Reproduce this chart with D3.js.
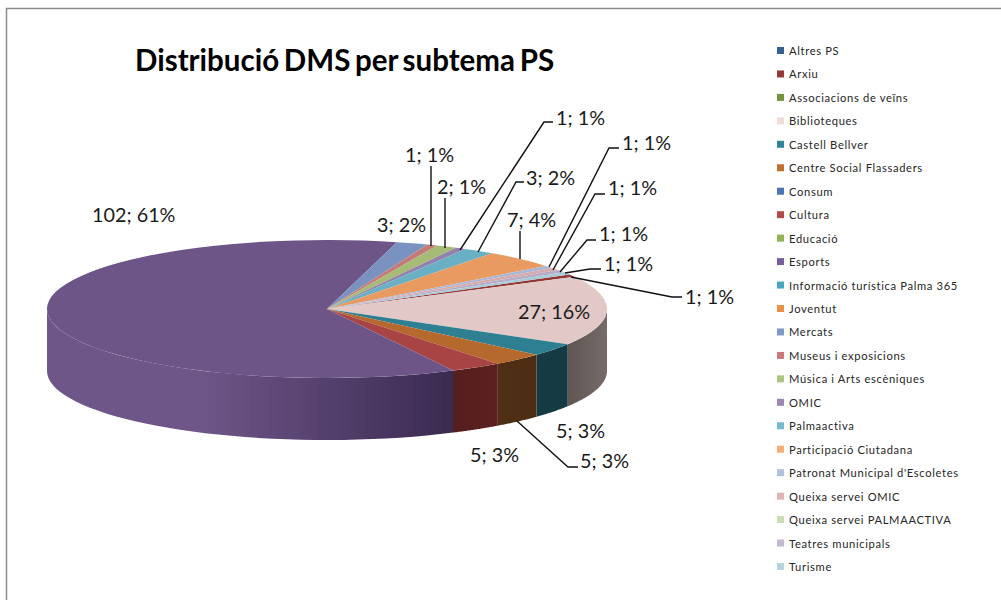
<!DOCTYPE html>
<html><head><meta charset="utf-8">
<script src="https://cdnjs.cloudflare.com/ajax/libs/d3/7.8.5/d3.min.js"></script>
<style>html,body{margin:0;padding:0;background:#fff}svg{display:block}text{font-family:Lato,"Open Sans",sans-serif}</style>
</head><body><svg id="c" width="1001" height="600"></svg>
<script>
const titleText = "Distribució DMS per subtema PS";
const categories = ["Altres PS","Arxiu","Associacions de veïns","Biblioteques","Castell Bellver","Centre Social Flassaders","Consum","Cultura","Educació","Esports","Informació turística Palma 365","Joventut","Mercats","Museus i exposicions","Música i Arts escèniques","OMIC","Palmaactiva","Participació Ciutadana","Patronat Municipal d'Escoletes","Queixa servei OMIC","Queixa servei PALMAACTIVA","Teatres municipals","Turisme"];
const values = [0,1,0,27,5,5,0,5,0,102,0,0,3,1,2,1,3,7,1,1,0,1,1];
const labels = ["","1; 1%","","27; 16%","5; 3%","5; 3%","","5; 3%","","102; 61%","","","3; 2%","1; 1%","2; 1%","1; 1%","3; 2%","7; 4%","1; 1%","1; 1%","","1; 1%","1; 1%"];
const legendColors = ["#376092","#953735","#76923c","#f2dcdb","#31859b","#c0702f","#4a76b0","#b24a48","#93b155","#7a5f9e","#47a5bf","#ec8f45","#7f9ac7","#c87a78","#adc582","#9a86b4","#7ab8cd","#f7ad78","#b2c1dc","#e0b4b3","#cddcb6","#c2b8d1","#b6d4e0"];
const topColors = ["#376092","#953735","#76923c","#e2c9c8","#2f7f92","#b5692c","#4a76b0","#a84444","#93b155","#6d5588","#47a5bf","#ec8f45","#7a92c0","#c47a78","#a5bb76","#9280ae","#6ab0c4","#e89a60","#a9b7d6","#d8abab","#cddcb6","#b7acc8","#a8cbd8"];
const sideColors = [["#1c3049","#1c3049"],["#4a1b1a","#4a1b1a"],["#3b491e","#3b491e"],["#756b69","#5f5553"],["#163a44","#163a44"],["#4c2c14","#4f3015"],["#253b58","#253b58"],["#5e2020","#541f1f"],["#49582a","#49582a"],["#3a2a50","#6f5689"],["#235260","#235260"],["#764722","#764722"],["#3d4d63","#3d4d63"],["#643d3c","#643d3c"],["#566241","#566241"],["#4d435a","#4d435a"],["#3d5c66","#3d5c66"],["#7b563c","#7b563c"],["#595f6e","#595f6e"],["#705a59","#705a59"],["#666e5b","#666e5b"],["#615c68","#615c68"],["#5b6a70","#5b6a70"]];
const labelAt = {1:[685,297],3:[518,312],4:[556,431],5:[580,461],7:[470,455],9:[92,215],12:[377,225],13:[405,155],14:[437,187],15:[556,118],16:[526,178],17:[507,220],18:[622,143],19:[608,188],21:[599,234],22:[604,264]};
const leaders = {1:[[571,277],[672,297],[682,297]],5:[[517,421],[568,467],[578,467]],13:[[431,246],[431,166]],14:[[445,248],[445,198]],15:[[460,250],[544,122],[553,122]],16:[[478,252],[516,182],[524,182]],17:[[520,259],[520,231]],18:[[549,267],[609,148],[619,148]],19:[[553,270],[595,194],[605,194]],21:[[560,272],[587,240],[596,240]],22:[[565,273],[590,269],[601,269]]};

const svg = d3.select("#c");
const cx=327, cy=309, rx=280, ry=69, depth=62;
const pie = d3.pie().sort(null).value(d=>d).startAngle(Math.PI/2-30*Math.PI/180).endAngle(Math.PI/2-30*Math.PI/180+2*Math.PI);
const arcs = pie(values);
const X = t=>cx+rx*Math.sin(t), Y=t=>cy-ry*Math.cos(t);
svg.append("rect").attr("x",6.5).attr("y",8.5).attr("width",1100).attr("height",700).attr("fill","#fff").attr("stroke","#8c8c8c").attr("stroke-width",1.5);

const defs = svg.append("defs");
const sideG = svg.append("g");
arcs.forEach((a,i)=>{
  const s=Math.max(a.startAngle,Math.PI/2), e=Math.min(a.endAngle,3*Math.PI/2);
  if(e<=s) return;
  const ts=d3.range(0,41).map(k=>s+(e-s)*k/40);
  const pts=ts.map(t=>[X(t),Y(t)]).concat(ts.slice().reverse().map(t=>[X(t),Y(t)+depth]));
  const id="g"+i;
  const lg=defs.append("linearGradient").attr("id",id).attr("gradientUnits","userSpaceOnUse")
    .attr("x1",X(s)).attr("x2",i===9?200:X(e)).attr("y1",0).attr("y2",0);
  lg.append("stop").attr("offset",0).attr("stop-color",sideColors[i][0]);
  lg.append("stop").attr("offset",1).attr("stop-color",sideColors[i][1]);
  sideG.append("path").attr("d",d3.line()(pts)+"Z").attr("fill",`url(#${id})`);
});
const arcGen=d3.arc().innerRadius(0).outerRadius(rx);
svg.append("g").attr("transform",`translate(${cx},${cy}) scale(1,${ry/rx})`)
 .selectAll("path").data(arcs).join("path")
 .attr("d",arcGen).attr("fill",(d,i)=>topColors[i]);

Object.values(leaders).forEach(p=>svg.append("path").attr("d",d3.line()(p)).attr("fill","none").attr("stroke","#111").attr("stroke-width",1.4));
Object.entries(labelAt).forEach(([i,p])=>svg.append("text").attr("x",p[0]).attr("y",p[1]+7).attr("font-size",19.8).attr("fill","#1a1a1a").text(labels[i]));

svg.append("text").attr("x",135).attr("y",71).attr("font-size",29.5).attr("font-weight",700).attr("word-spacing",-2.5).attr("fill","#000").text(titleText);

const legY=d3.scalePoint().domain(categories).range([51,567]);
const leg=svg.append("g").selectAll("g").data(categories).join("g").attr("transform",d=>`translate(0,${legY(d)})`);
leg.append("rect").attr("x",777).attr("y",-4).attr("width",7).attr("height",7).attr("fill",(d,i)=>legendColors[i]);
leg.append("text").attr("x",789).attr("y",4).attr("font-size",11.2).attr("letter-spacing",0.65).attr("fill","#262626").text(d=>d);
</script></body></html>
